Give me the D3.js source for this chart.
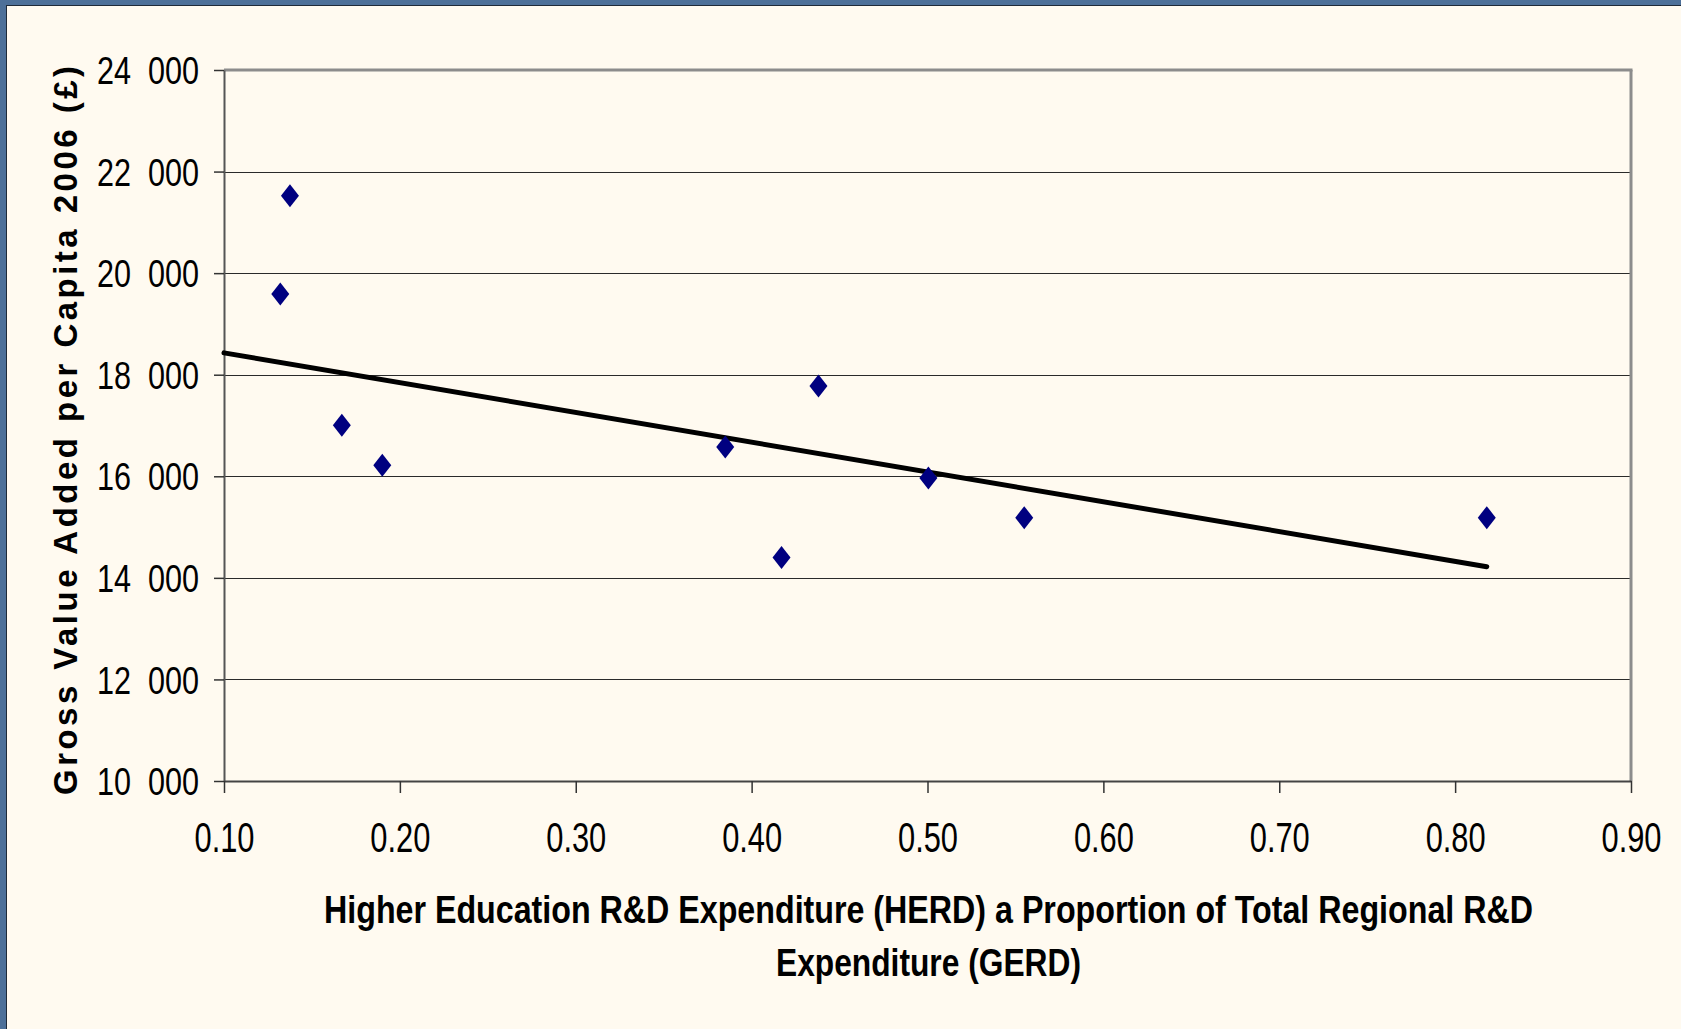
<!DOCTYPE html>
<html>
  <head>
    <meta charset="utf-8" />
    <title>GVA per capita vs HERD share</title>
    <script src="https://d3js.org/d3.v7.min.js"></script>
    <style>
      body {
        margin: 0;
        background-color: #4d7099;
      }
      svg {
        display: block;
      }
      text {
        font-family: "Liberation Sans", Arial, sans-serif;
        fill: #000;
      }
    </style>
  </head>
  <body>
    <svg width="1681" height="1029" id="chart"></svg>

    <script>
      // data
      const herdShare = [0.132, 0.1375, 0.167, 0.190, 0.385, 0.417, 0.438, 0.5005, 0.555, 0.818];
      const gvaPerCapita = [19590, 21525, 17005, 16215, 16575, 14400, 17780, 15965, 15185, 15185];

      // trend line end points
      const trendX = [0.10, 0.818];
      const trendY = [18430, 14220];

      const xTicks = [0.1, 0.2, 0.3, 0.4, 0.5, 0.6, 0.7, 0.8, 0.9];
      const yTicks = [10000, 12000, 14000, 16000, 18000, 20000, 22000, 24000];

      const yTitle = "Gross Value Added per Capita 2006 (£)";
      const xTitle = [
        "Higher Education R&D Expenditure (HERD) a Proportion of Total Regional R&D",
        "Expenditure (GERD)"
      ];

      const svg = d3.select("#chart");

      // slide frame
      svg.append("rect")
        .attr("x", 0).attr("y", 0)
        .attr("width", 1681).attr("height", 1029)
        .attr("fill", "#4d7099");
      svg.append("rect")
        .attr("x", 6).attr("y", 5)
        .attr("width", 1675).attr("height", 1024)
        .attr("fill", "#1f2a38");
      svg.append("rect")
        .attr("x", 7).attr("y", 6)
        .attr("width", 1674).attr("height", 1023)
        .attr("fill", "#fffaf0");

      const plotLeft = 224, plotRight = 1631, plotTop = 70, plotBottom = 781;

      const x = d3.scaleLinear().domain([0.1, 0.9]).range([plotLeft, plotRight]);
      const y = d3.scaleLinear().domain([10000, 24000]).range([plotBottom, plotTop]);

      // gridlines
      svg.append("g")
        .selectAll("line")
        .data(yTicks.slice(1, -1))
        .enter()
        .append("line")
        .attr("x1", plotLeft)
        .attr("x2", plotRight)
        .attr("y1", d => Math.round(y(d)) + 0.5)
        .attr("y2", d => Math.round(y(d)) + 0.5)
        .attr("stroke", "#2a2a2a")
        .attr("stroke-width", 1);

      // plot border: top/right grey, left/bottom are the axes
      svg.append("line")
        .attr("x1", plotLeft).attr("x2", plotRight + 1.5)
        .attr("y1", plotTop).attr("y2", plotTop)
        .attr("stroke", "#8c8c8c").attr("stroke-width", 3);
      svg.append("line")
        .attr("x1", plotRight).attr("x2", plotRight)
        .attr("y1", plotTop).attr("y2", plotBottom)
        .attr("stroke", "#8c8c8c").attr("stroke-width", 3);

      // y axis
      const yAxis = svg.append("g")
        .attr("transform", `translate(${plotLeft},0)`)
        .call(d3.axisLeft(y).tickValues(yTicks).tickSize(10).tickSizeOuter(0)
          .tickFormat(d => d3.format("d")(d / 1000) + "\u00a0\u00a0000"));
      yAxis.select(".domain").attr("stroke", "#555").attr("stroke-width", 2);
      yAxis.selectAll(".tick line").attr("stroke", "#333").attr("stroke-width", 1.5);
      yAxis.selectAll(".tick text")
        .attr("x", -25)
        .attr("dy", "0.36em")
        .attr("font-size", 38)
        .attr("textLength", 102)
        .attr("lengthAdjust", "spacingAndGlyphs")
        .style("font-family", "'Liberation Sans', Arial, sans-serif");

      // x axis
      const xAxis = svg.append("g")
        .attr("transform", `translate(0,${plotBottom})`)
        .call(d3.axisBottom(x).tickValues(xTicks).tickSize(12).tickSizeOuter(0)
          .tickFormat(d3.format(".2f")));
      xAxis.select(".domain").attr("stroke", "#444").attr("stroke-width", 2);
      xAxis.selectAll(".tick line").attr("stroke", "#333").attr("stroke-width", 1.5);
      xAxis.selectAll(".tick text")
        .attr("y", 71)
        .attr("dy", 0)
        .attr("font-size", 42)
        .attr("textLength", 60)
        .attr("lengthAdjust", "spacingAndGlyphs")
        .style("font-family", "'Liberation Sans', Arial, sans-serif");

      // trend line
      const trend = trendX.map((d, i) => [d, trendY[i]]);
      svg.append("path")
        .datum(trend)
        .attr("d", d3.line().x(d => x(d[0])).y(d => y(d[1])))
        .attr("fill", "none")
        .attr("stroke", "#000")
        .attr("stroke-width", 5)
        .attr("stroke-linecap", "round");

      // diamond markers
      const points = herdShare.map((d, i) => ({ x: d, y: gvaPerCapita[i] }));
      svg.append("g")
        .selectAll("path")
        .data(points)
        .enter()
        .append("path")
        .attr("transform", d => `translate(${x(d.x)},${y(d.y)})`)
        .attr("d", "M0,-11.5L9,0L0,11.5L-9,0Z")
        .attr("fill", "#000080");

      // y title
      svg.append("text")
        .attr("transform", "translate(77,430.5) rotate(-90)")
        .attr("text-anchor", "middle")
        .attr("font-size", 33)
        .attr("font-weight", "bold")
        .attr("textLength", 729)
        .attr("lengthAdjust", "spacing")
        .text(yTitle);

      // x title
      const titleWidths = [1209, 305];
      svg.append("g")
        .selectAll("text")
        .data(xTitle)
        .enter()
        .append("text")
        .attr("x", 928.5)
        .attr("y", (d, i) => 923 + i * 52.5)
        .attr("text-anchor", "middle")
        .attr("font-size", 39)
        .attr("font-weight", "bold")
        .attr("textLength", (d, i) => titleWidths[i])
        .attr("lengthAdjust", "spacingAndGlyphs")
        .text(d => d);
    </script>
  </body>
</html>
